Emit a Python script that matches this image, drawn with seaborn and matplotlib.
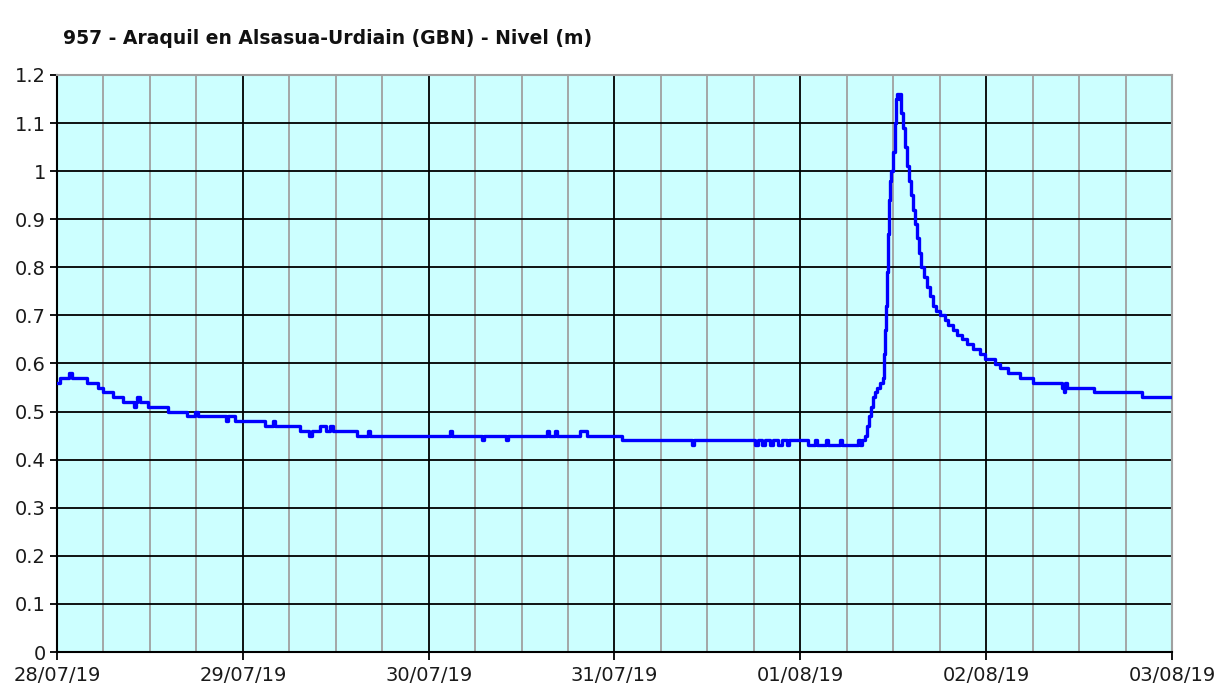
import numpy as np
import pandas as pd
import matplotlib
matplotlib.use("Agg")
import matplotlib.pyplot as plt
import matplotlib.dates as mdates
from matplotlib.ticker import FuncFormatter, MultipleLocator
import seaborn as sns

# ---- data: hours since 28/07/19 00:00 and water level (m) ----
hours = [0.0, 0.4, 1.55, 1.9, 3.9, 5.3, 5.9, 7.2, 8.5, 9.9, 10.2, 10.3, 10.7, 11.75,
         14.3, 16.8, 17.8, 18.2, 21.8, 22.1, 23.0, 26.9, 27.9, 28.2, 31.4, 32.5, 32.9,
         33.97, 34.7, 35.3, 35.6, 38.75, 40.2, 40.4, 50.8, 51.0, 54.9, 55.2, 58.0, 58.3,
         63.3, 63.5, 64.3, 64.6, 67.6, 68.5, 73.0, 82.0, 82.3, 90.2, 90.5, 91.1, 91.4,
         92.1, 92.5, 93.1, 93.6, 94.3, 94.5, 97.0, 97.9, 98.2, 99.3, 99.6, 101.1, 101.4,
         103.5, 103.7, 104.0, 104.4, 104.6, 104.9, 105.1, 105.4, 105.7, 105.9, 106.3,
         106.7, 106.8, 106.9, 107.1, 107.2, 107.3, 107.5, 107.6, 107.7, 108.0, 108.2,
         108.4, 108.5, 108.8, 108.9, 109.0, 109.3, 109.5, 109.8, 110.0, 110.3, 110.6,
         110.8, 111.1, 111.3, 111.6, 112.0, 112.4, 112.8, 113.1, 113.5, 114.1, 114.7,
         115.1, 115.7, 116.2, 116.9, 117.5, 118.3, 119.2, 119.9, 121.2, 121.8, 122.8,
         124.4, 126.1, 129.8, 130.0, 130.2, 130.5, 133.9, 140.1, 144.0]
levels = [0.56, 0.57, 0.58, 0.57, 0.56, 0.55, 0.54, 0.53, 0.52, 0.51, 0.52, 0.53, 0.52, 0.51,
          0.50, 0.49, 0.50, 0.49, 0.48, 0.49, 0.48, 0.47, 0.48, 0.47, 0.46, 0.45, 0.46,
          0.47, 0.46, 0.47, 0.46, 0.45, 0.46, 0.45, 0.46, 0.45, 0.44, 0.45, 0.44, 0.45,
          0.46, 0.45, 0.46, 0.45, 0.46, 0.45, 0.44, 0.43, 0.44, 0.43, 0.44, 0.43, 0.44,
          0.43, 0.44, 0.43, 0.44, 0.43, 0.44, 0.43, 0.44, 0.43, 0.44, 0.43, 0.44, 0.43,
          0.44, 0.43, 0.44, 0.45, 0.47, 0.49, 0.51, 0.53, 0.54, 0.55, 0.56,
          0.57, 0.62, 0.67, 0.72, 0.79, 0.87, 0.94, 0.98, 1.00, 1.04, 1.10,
          1.15, 1.16, 1.15, 1.16, 1.12, 1.09, 1.05, 1.01, 0.98, 0.95, 0.92,
          0.89, 0.86, 0.83, 0.80, 0.78, 0.76, 0.74, 0.72, 0.71, 0.70, 0.69,
          0.68, 0.67, 0.66, 0.65, 0.64, 0.63, 0.62, 0.61, 0.60, 0.59, 0.58,
          0.57, 0.56, 0.55, 0.54, 0.56, 0.55, 0.54, 0.53, 0.53]

start = pd.Timestamp("2019-07-28")
day_ticks = ["28/07/19", "29/07/19", "30/07/19", "31/07/19", "01/08/19", "02/08/19", "03/08/19"]
title = "957 - Araquil en Alsasua-Urdiain (GBN) - Nivel (m)"

df = pd.DataFrame({"time": start + pd.to_timedelta(hours, unit="h"), "nivel": levels})

sns.set_style("white")
plt.rcParams["font.family"] = ["DejaVu Sans"]

fig = plt.figure(figsize=(12.17, 6.89), dpi=100)
ax = fig.add_axes([57/1217, 37/689, (1172-57)/1217, (652-75)/689])
ax.set_facecolor("#CCFFFF")

sns.lineplot(data=df, x="time", y="nivel", ax=ax, color="#0000FF", linewidth=2.4,
             drawstyle="steps-post", zorder=5)

day_pos = [start + pd.Timedelta(days=i) for i in range(len(day_ticks))]
ax.set_xlim(day_pos[0], day_pos[-1])
ax.set_xticks(day_pos)
ax.set_xticklabels(day_ticks)
ax.xaxis.set_minor_locator(mdates.HourLocator(byhour=[6, 12, 18]))
ax.set_ylim(0, 1.2)
ax.yaxis.set_major_locator(MultipleLocator(0.1))
ax.yaxis.set_major_formatter(FuncFormatter(lambda v, p: f"{v:.1f}".rstrip("0").rstrip(".") if v else "0"))

ax.grid(which="minor", axis="x", color="#A0A0A0", linewidth=1.3, zorder=1)
ax.grid(which="major", axis="both", color="black", linewidth=1.3, zorder=2)
ax.set_axisbelow(True)

ax.set_xlabel("")
ax.set_ylabel("")
ax.tick_params(axis="x", which="major", length=6, width=1.3, color="black", direction="out",
               labelsize=14, pad=4, bottom=True, labelcolor="#1a1a1a")
ax.tick_params(axis="x", which="minor", length=0)
ax.tick_params(axis="y", which="major", length=5, width=1.3, color="black", direction="out",
               labelsize=14, pad=3, left=True, labelcolor="#1a1a1a")

for side in ["left", "bottom"]:
    ax.spines[side].set_color("black")
    ax.spines[side].set_linewidth(1.5)
for side in ["top", "right"]:
    ax.spines[side].set_color("#A0A0A0")
    ax.spines[side].set_linewidth(1.5)
    ax.spines[side].set_visible(True)

fig.text(63/1217, 1 - 39/689, title, fontsize=13.5, fontweight="bold",
         family=["DejaVu Sans"], ha="left", va="center", color="#111111")

fig.savefig("out.png", dpi=100, facecolor="white")
